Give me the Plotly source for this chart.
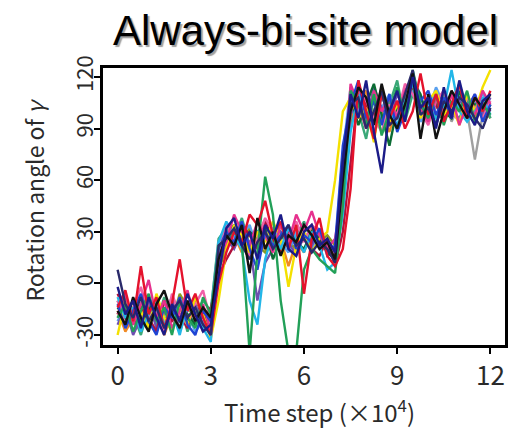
import plotly.graph_objects as go

# time grid (x 10^4 steps), one sample every 0.25
time_step = [i * 0.25 for i in range(49)]

x_ticks = [0, 3, 6, 9, 12]
y_ticks = [-30, 0, 30, 60, 90, 120]

# Each trajectory: phase1 (13) | rise (1) | phase2 (15) | rise (1) | phase3 (19)
traj_gray = [-20, -10, -16, -24, -12, -18, -22, -14, -20, -10, -18, -24, -20,
             20,
             24, 30, 26, 20, 28, 34, 24, 28, 22, 30, 26, 22, 28, 24, 20,
             60,
             102, 96, 108, 100, 94, 106, 100, 96, 112, 104, 98, 102, 108, 94, 104, 100, 72, 98, 104]
traj_orange = [-16, -28, -20, -12, -24, -16, -30, -18, -10, -22, -16, -28, -20,
               12,
               22, 28, 18, 30, 24, 20, 32, 26, 10, 24, 18, 30, 24, 20, 18,
               62,
               96, 104, 112, 94, 100, 88, 104, 110, 120, 96, 102, 110, 98, 104, 108, 100, 96, 104, 110]
traj_olive = [-18, -8, -20, -14, -24, -10, -16, -22, -6, -14, -20, -26, -18,
              8,
              20, 30, 26, 32, 22, 18, 28, 34, 24, 20, 26, 32, 24, 28, 22,
              44,
              92, 106, 98, 110, 94, 106, 100, 108, 114, 100, 106, 98, 96, 104, 100, 108, 98, 102, 96]
traj_seagreen = [-10, -22, -18, -30, -14, -24, -8, -20, -12, -28, -18, -10, -16,
                 26,
                 32, 26, 38, 22, 30, 36, 24, 30, 20, 28, 36, 24, 30, 22, 16,
                 66,
                 106, 100, 84, 108, 96, 104, 118, 94, 110, 100, 106, 92, 110, 100, 96, 106, 100, 112, 96]
traj_lightblue = [-22, -12, -18, -26, -8, -16, -24, -20, -10, -18, -28, -22, -16,
                  24,
                  30, 22, 28, 34, 20, 26, 32, 24, 18, 30, 26, 20, 28, 24, 20,
                  76,
                  114, 100, 108, 86, 102, 110, 96, 104, 112, 94, 100, 114, 104, 98, 110, 96, 104, 110, 100]
traj_purple = [-24, -14, -30, -20, -10, -26, -18, -8, -28, -16, -12, -24, -26,
               10,
               26, 20, 30, 24, -10, 12, 20, 30, 24, 16, 28, 22, 30, 16, 20,
               50,
               98, 108, 94, 114, 102, 96, 110, 100, 118, 108, 98, 104, 112, 96, 106, 102, 110, 98, 108]
traj_darkgreen = [-14, -20, -10, -24, -16, -8, -28, -14, -22, -18, -24, -14, -28,
                  18,
                  28, 34, 22, 30, 26, 32, 14, 26, 32, 24, 20, 30, 26, 18, 14,
                  58,
                  108, 92, 104, 116, 98, 80, 102, 96, 118, 110, 94, 106, 100, 96, 112, 100, 104, 96, 104]
traj_crimson = [-6, -16, -24, -14, -20, -28, -10, -22, -18, -26, -8, -20, -14,
                4,
                14, 22, 34, 28, 20, 36, 26, 18, 30, 22, 28, 20, 16, 26, 10,
                30,
                70, 112, 104, 96, 114, 92, 106, 100, 116, 98, 108, 104, 94, 110, 102, 96, 108, 104, 100]
traj_pink = [-10, -24, -14, -2, -20, -12, -28, -6, -18, -24, -12, -4, -22,
             18,
             34, 26, 30, 16, 26, 38, 30, 22, 28, 36, 24, 34, 30, 22, 16,
             50,
             100, 112, 106, 96, 88, 104, 98, 116, 110, 100, 92, 106, 112, 100, 94, 108, 102, 96, 106]
traj_yellow = [-30, -10, -22, -16, -26, -6, -20, -28, -14, -24, -8, -18, -32,
               -10,
               20, 34, 28, 18, 30, 24, 36, 26, -2, 22, 30, 18, 26, 30, 60,
               100,
               108, 96, 102, 82, 112, 94, 104, 100, 118, 96, 106, 112, 98, 104, 92, 110, 100, 114, 124]
traj_cyan = [-8, -20, -14, -28, -18, -10, -24, -16, -30, -12, -20, -26, -34,
             24,
             36, 28, 20, -10, -24, 14, 30, 20, 32, 26, 18, 30, 22, 8, 12,
             40,
             88, 110, 100, 94, 108, 100, 92, 106, 116, 98, 104, 96, 102, 124, 100, 94, 100, 108, 98]
traj_magenta = [-18, -6, -24, -12, 2, -20, -10, -26, -16, -4, -22, -12, -28,
                16,
                24, 40, 30, 22, 36, 28, 18, 34, 24, 40, 30, 42, 28, 20, 26,
                55,
                116, 104, 90, 112, 100, 108, 96, 112, 120, 102, 94, 108, 100, 110, 92, 104, 98, 112, 104]
traj_blue = [-12, -26, -16, -6, -22, -30, -14, -20, -8, -24, -30, -16, -22,
             20,
             30, 24, 36, 20, 8, 30, 22, 28, 34, 20, 28, 24, 32, 18, 22,
             80,
             104, 118, 96, 106, 92, 110, 88, 100, 122, 106, 112, 98, 108, 96, 116, 100, 110, 94, 104]
traj_green = [-20, -12, -28, -16, -6, -22, -14, -30, -10, -20, -26, -8, -18,
              22,
              26, 30, 24, -40, 18, 62, 40, -10, -40, -40, 8, 20, 14, 10, 6,
              45,
              112, 104, 92, 110, 86, 100, 114, 98, 124, 104, 96, 110, 92, 106, 100, 112, 94, 104, 98]
traj_red = [-14, -4, -22, 10, -18, -8, -26, -12, 14, -16, -6, -20, -30,
            0,
            18, 30, 24, 40, 34, 48, 28, 36, 20, 34, -6, 26, 38, 16, 10,
            20,
            55, 118, 100, 84, 110, 96, 106, 90, 100, 122, 98, 110, 94, 104, 116, 96, 108, 100, 112]
traj_navy2 = [8, -12, -20, -8, -22, -14, -26, -16, -10, -20, -14, -24, -30,
              22,
              26, 32, 22, 14, 24, 30, 20, 26, 34, 22, 26, 18, 24, 20, 12,
              72,
              104, 108, 90, 100, 112, 92, 96, 110, 124, 98, 102, 92, 106, 100, 108, 104, 96, 90, 102]
traj_black = [-16, -24, -8, -20, -28, -12, -4, -18, -26, -10, -22, -14, -20,
              14,
              28, 22, 34, 6, 38, 20, 30, 16, 28, 24, 34, 28, 20, 24, 14,
              60,
              100, 114, 108, 92, 116, 98, 90, 104, 122, 84, 110, 84, 100, 112, 104, 96, 108, 102, 110]
traj_navy = [-2, -18, -10, -26, -8, -20, -30, -12, -22, -6, -18, -28, -24,
             5,
             32, 38, 22, 30, 14, 34, 26, 40, 20, 16, 30, 34, 22, 26, 18,
             70,
             110, 96, 118, 88, 64, 100, 112, 94, 120, 102, 108, 90, 114, 96, 118, 100, 92, 106, 110]

series = [
    (traj_gray, "#a0a0a0"),
    (traj_orange, "#f08a24"),
    (traj_olive, "#8a9a20"),
    (traj_seagreen, "#3aa878"),
    (traj_lightblue, "#5aa0ee"),
    (traj_purple, "#6e4fb0"),
    (traj_darkgreen, "#0b6b34"),
    (traj_crimson, "#b0103a"),
    (traj_pink, "#f060a8"),
    (traj_yellow, "#f4e000"),
    (traj_cyan, "#22b6e8"),
    (traj_magenta, "#e6318e"),
    (traj_blue, "#1f44d4"),
    (traj_green, "#22a058"),
    (traj_red, "#e4122c"),
    (traj_navy2, "#2a2a6a"),
    (traj_black, "#111111"),
    (traj_navy, "#1b1b88"),
]

fig = go.Figure()
for vals, col in series:
    fig.add_trace(go.Scatter(x=time_step[:len(vals)], y=vals, mode="lines",
                             line=dict(color=col, width=2.4), showlegend=False,
                             hoverinfo="skip"))

L, R, T, B = 103, 4, 68, 84
W, H = 512, 429
pw, ph = W - L - R, H - T - B

def px(x):
    return (x - L) / pw

def py(y):
    return (H - B - y) / ph

axis_font = dict(family="Noto Sans CJK JP", color="#2a2a2a")

fig.update_layout(
    width=W, height=H,
    margin=dict(l=L, r=R, t=T, b=B, pad=0),
    paper_bgcolor="white", plot_bgcolor="white",
    xaxis=dict(range=[-0.47, 12.47], tickvals=x_ticks, ticktext=[str(v) for v in x_ticks],
               showgrid=False, zeroline=False, showline=True, linecolor="black",
               linewidth=3, mirror=True, ticks="outside", ticklen=6, tickwidth=2,
               tickcolor="black", tickfont=dict(size=26, **axis_font)),
    yaxis=dict(range=[-35.8, 125.2], tickvals=y_ticks, ticktext=[str(v) for v in y_ticks],
               showgrid=False, zeroline=False, showline=True, linecolor="black",
               linewidth=3, mirror=True, ticks="outside", ticklen=6, tickwidth=2,
               tickcolor="black", tickangle=-90, ticklabelstandoff=-8,
               tickfont=dict(size=22, **axis_font)),
)

fig.add_annotation(text="Always-bi-site model", xref="paper", yref="paper",
                   x=px(307.5), y=py(30), xanchor="center", yanchor="middle",
                   showarrow=False,
                   font=dict(family="Liberation Sans", size=42, color="black",
                             shadow="2px 2px 1px #a0a0a0"))

fig.add_annotation(text="Time step (×10<sup>4</sup>)", xref="paper", yref="paper",
                   x=px(321), y=py(411), xanchor="center", yanchor="middle",
                   showarrow=False, font=dict(size=24, **axis_font))
fig.add_annotation(text="Rotation angle of <i>γ</i>", xref="paper", yref="paper",
                   x=px(33), y=py(200), xanchor="center", yanchor="middle",
                   textangle=-90, showarrow=False, font=dict(size=23, **axis_font))

fig.write_html("out.html")
